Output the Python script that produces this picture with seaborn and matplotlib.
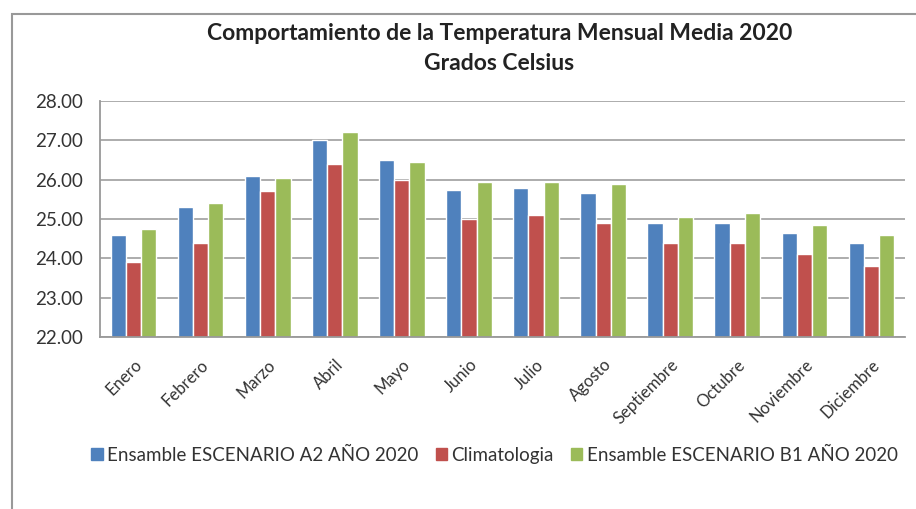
import matplotlib
matplotlib.use("Agg")
import matplotlib.pyplot as plt
import seaborn as sns
import pandas as pd
from matplotlib.patches import Rectangle

meses = ["Enero", "Febrero", "Marzo", "Abril", "Mayo", "Junio", "Julio",
         "Agosto", "Septiembre", "Octubre", "Noviembre", "Diciembre"]
series = ["Ensamble ESCENARIO A2 AÑO 2020", "Climatologia", "Ensamble ESCENARIO B1 AÑO 2020"]
a2 = [24.60, 25.30, 26.10, 27.00, 26.50, 25.75, 25.80, 25.65, 24.90, 24.90, 24.65, 24.40]
clima = [23.90, 24.40, 25.70, 26.40, 26.00, 25.00, 25.10, 24.90, 24.40, 24.40, 24.10, 23.80]
b1 = [24.75, 25.40, 26.05, 27.20, 26.45, 25.95, 25.95, 25.90, 25.05, 25.15, 24.85, 24.60]
yticks = [22, 23, 24, 25, 26, 27, 28]
colores = ["#4F81BD", "#C0504D", "#9BBB59"]

df = pd.DataFrame({
    "mes": meses * 3,
    "serie": [series[0]] * 12 + [series[1]] * 12 + [series[2]] * 12,
    "valor": a2 + clima + b1,
})

sns.set_theme(style="white")
plt.rcParams["font.family"] = ["Lato", "DejaVu Sans"]

fig = plt.figure(figsize=(9.16, 5.09), dpi=100)
ax = fig.add_axes([100 / 916, 1 - 337 / 509, 805 / 916, 236 / 509])

sns.barplot(data=df, x="mes", y="valor", hue="serie", order=meses, hue_order=series,
            palette=colores, width=0.68, gap=0, saturation=1, ax=ax, legend=False)

ax.set_ylim(22, 28)
ax.set_yticks(yticks)
ax.set_yticklabels([f"{v:.2f}" for v in yticks], fontsize=13.5, color="#333333")
ax.set_xlim(-0.5, 11.5)
ax.set_xlabel("")
ax.set_ylabel("")
ax.set_axisbelow(True)
ax.yaxis.grid(True, color="#a6a6a6", linewidth=1.3)
ax.xaxis.grid(False)
for s in ["top", "right"]:
    ax.spines[s].set_visible(False)
for s in ["left", "bottom"]:
    ax.spines[s].set_color("#999999")
    ax.spines[s].set_linewidth(1.3)
ax.tick_params(axis="both", length=0)
ax.tick_params(axis="y", pad=12)
plt.setp(ax.get_xticklabels(), rotation=45, ha="right", rotation_mode="anchor",
         fontsize=12, color="#333333")
ax.tick_params(axis="x", pad=14)

fig.text(0.545, 1 - 33 / 509, "Comportamiento de la Temperatura Mensual Media 2020",
         ha="center", va="center", fontsize=16.5, fontweight="bold", color="#222222")
fig.text(0.545, 1 - 63 / 509, "Grados Celsius",
         ha="center", va="center", fontsize=16.5, fontweight="bold", color="#222222")

handles = [Rectangle((0, 0), 1, 1, color=c) for c in colores]
fig.legend(handles, series, loc="center", bbox_to_anchor=(0.54, 1 - 455 / 509), ncol=3,
           frameon=False, fontsize=13.5, handlelength=0.6, handleheight=0.6,
           handletextpad=0.25, columnspacing=0.9, labelcolor="#333333")

frame = Rectangle((12 / 916, -0.1), 1.2, 1.1 - 14 / 509, transform=fig.transFigure,
                  fill=False, edgecolor="#999999", linewidth=1.5)
fig.patches.append(frame)

fig.savefig("out.png", dpi=100)
